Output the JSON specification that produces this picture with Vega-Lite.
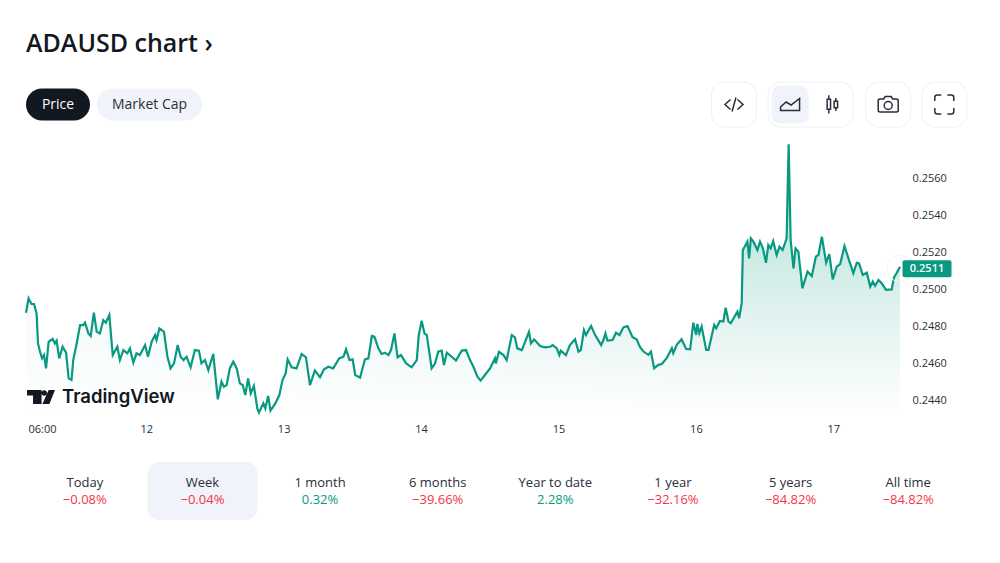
{"$schema":"https://vega.github.io/schema/vega-lite/v6.json","width":874,"height":271,"autosize":{"type":"none"},"padding":{"left":26,"top":144,"right":100,"bottom":148},"background":"#ffffff","config":{"view":{"stroke":null},"font":"Open Sans"},
"title":{"text":"ADAUSD chart ›","anchor":"start","frame":"group","fontSize":25,"fontWeight":600,"color":"#131722","offset":25},
"datasets":{"price":[{"t":0,"p":0.24872},{"t":0.9,"p":0.24949},{"t":1.9,"p":0.24919},{"t":2.8,"p":0.24919},{"t":3.7,"p":0.24868},{"t":4.2,"p":0.24706},{"t":4.9,"p":0.24661},{"t":5.6,"p":0.24625},{"t":6.3,"p":0.24643},{"t":7,"p":0.24571},{"t":7.9,"p":0.24715},{"t":9.3,"p":0.2473},{"t":10.1,"p":0.24706},{"t":10.7,"p":0.24721},{"t":11.6,"p":0.24625},{"t":12.8,"p":0.24688},{"t":14,"p":0.24656},{"t":14.9,"p":0.24517},{"t":15.9,"p":0.24508},{"t":16.5,"p":0.24616},{"t":17.7,"p":0.24706},{"t":18.9,"p":0.24805},{"t":20,"p":0.24805},{"t":20.6,"p":0.24818},{"t":21.8,"p":0.2476},{"t":22.6,"p":0.24746},{"t":23.7,"p":0.24872},{"t":24.7,"p":0.24769},{"t":25.8,"p":0.2476},{"t":27,"p":0.24832},{"t":27.9,"p":0.24818},{"t":29.1,"p":0.24859},{"t":30.3,"p":0.24643},{"t":31.9,"p":0.24688},{"t":32.8,"p":0.24616},{"t":34,"p":0.2467},{"t":35.4,"p":0.24652},{"t":36.3,"p":0.24679},{"t":37.5,"p":0.24602},{"t":38.6,"p":0.24652},{"t":39.8,"p":0.24643},{"t":41.6,"p":0.24697},{"t":42.6,"p":0.24634},{"t":43.9,"p":0.24715},{"t":45.1,"p":0.24751},{"t":45.6,"p":0.24724},{"t":46.6,"p":0.24787},{"t":48.2,"p":0.24769},{"t":49.4,"p":0.24634},{"t":50.5,"p":0.24571},{"t":51.7,"p":0.24598},{"t":53,"p":0.24697},{"t":54,"p":0.24634},{"t":55,"p":0.24616},{"t":56.1,"p":0.24634},{"t":57.5,"p":0.24577},{"t":59,"p":0.2467},{"t":60.4,"p":0.24667},{"t":61.3,"p":0.24598},{"t":62.5,"p":0.24616},{"t":63.7,"p":0.24562},{"t":65.4,"p":0.24649},{"t":67,"p":0.24404},{"t":68.3,"p":0.245},{"t":69.1,"p":0.24472},{"t":70.1,"p":0.24481},{"t":71.2,"p":0.24571},{"t":72.4,"p":0.24607},{"t":73.6,"p":0.24571},{"t":74.7,"p":0.2449},{"t":75.7,"p":0.24481},{"t":76.6,"p":0.24427},{"t":77.6,"p":0.24517},{"t":78.5,"p":0.24436},{"t":79.6,"p":0.24476},{"t":80.8,"p":0.24355},{"t":81.4,"p":0.24332},{"t":82.9,"p":0.24382},{"t":83.6,"p":0.24355},{"t":84.6,"p":0.24422},{"t":85.4,"p":0.24343},{"t":87,"p":0.24379},{"t":88.5,"p":0.24427},{"t":89.6,"p":0.24508},{"t":90.7,"p":0.24544},{"t":91.4,"p":0.2462},{"t":92.8,"p":0.24577},{"t":94.5,"p":0.24571},{"t":96.3,"p":0.24649},{"t":97.8,"p":0.24631},{"t":99.2,"p":0.24481},{"t":100.9,"p":0.24559},{"t":102.7,"p":0.24523},{"t":104.1,"p":0.24566},{"t":105.6,"p":0.2458},{"t":107.3,"p":0.24571},{"t":109.4,"p":0.24625},{"t":110.9,"p":0.24634},{"t":111.8,"p":0.24674},{"t":113,"p":0.24616},{"t":114.1,"p":0.2462},{"t":115,"p":0.24535},{"t":116.7,"p":0.24521},{"t":118.4,"p":0.2462},{"t":119.6,"p":0.24625},{"t":120.8,"p":0.24746},{"t":121.7,"p":0.24742},{"t":123.1,"p":0.24679},{"t":124.2,"p":0.24649},{"t":125.4,"p":0.24656},{"t":126.6,"p":0.24643},{"t":127.5,"p":0.2467},{"t":128.7,"p":0.2476},{"t":129.8,"p":0.24631},{"t":131,"p":0.24643},{"t":132.8,"p":0.24598},{"t":134.7,"p":0.24577},{"t":136.5,"p":0.24616},{"t":137.2,"p":0.24751},{"t":138.2,"p":0.24829},{"t":139.2,"p":0.2476},{"t":140,"p":0.24751},{"t":141.7,"p":0.24571},{"t":142.9,"p":0.24598},{"t":144,"p":0.24661},{"t":145.2,"p":0.24667},{"t":146,"p":0.24589},{"t":147,"p":0.24656},{"t":148.7,"p":0.24634},{"t":150.2,"p":0.24613},{"t":152.2,"p":0.24667},{"t":153.7,"p":0.2467},{"t":155.1,"p":0.24616},{"t":156.3,"p":0.2458},{"t":157.7,"p":0.24526},{"t":158.8,"p":0.24505},{"t":160.3,"p":0.24535},{"t":162.1,"p":0.24571},{"t":163.8,"p":0.24625},{"t":164.1,"p":0.24598},{"t":165.2,"p":0.24661},{"t":166.8,"p":0.24643},{"t":167.9,"p":0.24616},{"t":169.7,"p":0.24751},{"t":170.8,"p":0.24739},{"t":171.6,"p":0.24679},{"t":173.2,"p":0.2467},{"t":175.7,"p":0.24769},{"t":176.4,"p":0.24706},{"t":177.5,"p":0.24728},{"t":179.6,"p":0.24692},{"t":181.3,"p":0.24685},{"t":183.1,"p":0.24688},{"t":184,"p":0.24697},{"t":185.4,"p":0.24679},{"t":186.3,"p":0.24643},{"t":186.8,"p":0.24667},{"t":188.6,"p":0.24643},{"t":190,"p":0.24697},{"t":191.8,"p":0.24728},{"t":193,"p":0.24661},{"t":193.8,"p":0.2467},{"t":194.9,"p":0.24778},{"t":195.6,"p":0.24751},{"t":197.4,"p":0.248},{"t":198.8,"p":0.24751},{"t":199.9,"p":0.24724},{"t":200.9,"p":0.24697},{"t":201.7,"p":0.24724},{"t":202.4,"p":0.2476},{"t":203.1,"p":0.24721},{"t":204.9,"p":0.24724},{"t":206.1,"p":0.24764},{"t":207.3,"p":0.24751},{"t":208.7,"p":0.24793},{"t":210.1,"p":0.248},{"t":211.9,"p":0.24739},{"t":213.3,"p":0.24728},{"t":214.5,"p":0.24685},{"t":215.7,"p":0.24662},{"t":217.4,"p":0.24644},{"t":218.3,"p":0.24662},{"t":219.4,"p":0.24572},{"t":220.9,"p":0.2459},{"t":222.1,"p":0.24595},{"t":223.8,"p":0.24626},{"t":225.6,"p":0.2468},{"t":226.1,"p":0.24653},{"t":227.3,"p":0.24698},{"t":229,"p":0.24728},{"t":230.6,"p":0.24676},{"t":232,"p":0.24674},{"t":233.1,"p":0.24818},{"t":234.1,"p":0.24752},{"t":234.5,"p":0.24811},{"t":235.2,"p":0.24761},{"t":236,"p":0.24797},{"t":237.6,"p":0.24671},{"t":238.4,"p":0.24671},{"t":240.4,"p":0.24806},{"t":241.1,"p":0.24788},{"t":242.4,"p":0.24827},{"t":243.6,"p":0.24824},{"t":244.4,"p":0.24899},{"t":245.4,"p":0.24824},{"t":246.2,"p":0.24815},{"t":248.5,"p":0.24878},{"t":249.1,"p":0.24842},{"t":250,"p":0.24923},{"t":250.4,"p":0.25211},{"t":252,"p":0.25256},{"t":252.6,"p":0.25166},{"t":253.2,"p":0.25274},{"t":254.1,"p":0.25256},{"t":255.5,"p":0.25211},{"t":256.4,"p":0.25256},{"t":257.4,"p":0.2522},{"t":258.5,"p":0.25142},{"t":259.3,"p":0.25238},{"t":260.1,"p":0.2522},{"t":261,"p":0.25259},{"t":262.2,"p":0.25184},{"t":263.2,"p":0.25229},{"t":264.3,"p":0.25211},{"t":265.7,"p":0.25274},{"t":266.4,"p":0.25783},{"t":267.1,"p":0.25265},{"t":268.1,"p":0.25112},{"t":268.8,"p":0.2522},{"t":269.8,"p":0.25202},{"t":271.2,"p":0.25004},{"t":273,"p":0.25094},{"t":274.5,"p":0.2507},{"t":275.9,"p":0.25175},{"t":276.8,"p":0.25184},{"t":278,"p":0.25283},{"t":279.5,"p":0.25142},{"t":280.6,"p":0.25189},{"t":281.8,"p":0.25052},{"t":283.2,"p":0.25121},{"t":284.4,"p":0.25135},{"t":285.9,"p":0.25232},{"t":287.3,"p":0.25166},{"t":289,"p":0.25085},{"t":290.2,"p":0.25142},{"t":291,"p":0.25139},{"t":292.3,"p":0.25076},{"t":293.7,"p":0.25088},{"t":294.9,"p":0.25013},{"t":295.8,"p":0.2504},{"t":296.6,"p":0.25018},{"t":297.8,"p":0.25049},{"t":298.9,"p":0.25031},{"t":300.4,"p":0.24995},{"t":302.4,"p":0.24998},{"t":303.2,"p":0.25063},{"t":304.2,"p":0.25088},{"t":305.3,"p":0.25121}],
"last":[{"t":305.3,"p":0.2511,"label":"0.2511"}],
"extent":[{"t0":0,"t1":305.3,"p0":0.25784,"p1":0.24319}],
"tabs":[{"period":"Today","line":"name","text":"Today"},{"period":"Today","line":"change","text":"−0.08%","dir":"down"},{"period":"Week","line":"tile"},{"period":"Week","line":"name","text":"Week"},{"period":"Week","line":"change","text":"−0.04%","dir":"down"},{"period":"1 month","line":"name","text":"1 month"},{"period":"1 month","line":"change","text":"0.32%","dir":"up"},{"period":"6 months","line":"name","text":"6 months"},{"period":"6 months","line":"change","text":"−39.66%","dir":"down"},{"period":"Year to date","line":"name","text":"Year to date"},{"period":"Year to date","line":"change","text":"2.28%","dir":"up"},{"period":"1 year","line":"name","text":"1 year"},{"period":"1 year","line":"change","text":"−32.16%","dir":"down"},{"period":"5 years","line":"name","text":"5 years"},{"period":"5 years","line":"change","text":"−84.82%","dir":"down"},{"period":"All time","line":"name","text":"All time"},{"period":"All time","line":"change","text":"−84.82%","dir":"down"}],
"bar":[{"control":"Price","zone":"top"},{"control":"Market Cap","zone":"top"},{"control":"embed","zone":"top"},{"control":"area","zone":"top"},{"control":"candle","zone":"top"},{"control":"camera","zone":"top"},{"control":"fullscreen","zone":"top"}],
"brand":[{"brand":"TradingView"}]},
"layer":[
{"data":{"name":"price"},"mark":{"type":"area","fill":{"gradient":"linear","x1":0,"y1":0,"x2":0,"y2":1,"stops":[{"offset":0,"color":"rgba(8,153,129,0.34)"},{"offset":0.9,"color":"rgba(8,153,129,0.03)"},{"offset":1,"color":"rgba(8,153,129,0)"}]}},"encoding":{"x":{"field":"t","type":"quantitative","scale":{"domain":[0,305.3],"nice":false,"zero":false},"axis":null},"y":{"field":"p","type":"quantitative","scale":{"domain":[0.24319,0.25784],"nice":false,"zero":false},"axis":null},"y2":{"datum":0.24319}}},
{"data":{"name":"extent"},"mark":{"type":"rect","fill":{"gradient":"linear","x1":0,"y1":0,"x2":1,"y2":0,"stops":[{"offset":0,"color":"rgba(255,255,255,0.7)"},{"offset":0.85,"color":"rgba(255,255,255,0)"},{"offset":1,"color":"rgba(255,255,255,0)"}]}},"encoding":{"x":{"field":"t0","type":"quantitative","scale":{"domain":[0,305.3],"nice":false,"zero":false},"axis":null},"x2":{"field":"t1"},"y":{"field":"p0","type":"quantitative","scale":{"domain":[0.24319,0.25784],"nice":false,"zero":false},"axis":null},"y2":{"field":"p1"}}},
{"data":{"name":"price"},"mark":{"type":"line","color":"#089981","strokeWidth":2.2,"interpolate":"linear"},"encoding":{"x":{"field":"t","type":"quantitative","title":null,"scale":{"domain":[0,305.3],"nice":false,"zero":false},"axis":{"title":null,"values":[5.6,42,90,138,186,234,282],"labelExpr":"datum.value<10?'06:00':toString(12+round((datum.value-42)/48))","grid":false,"domain":false,"ticks":false,"labelPadding":8,"labelFontSize":11,"labelColor":"#2a2e39","labelFont":"Open Sans","labelFlush":false}},"y":{"field":"p","type":"quantitative","title":null,"scale":{"domain":[0.24319,0.25784],"nice":false,"zero":false},"axis":{"title":null,"orient":"right","values":[0.244,0.246,0.248,0.25,0.252,0.254,0.256],"format":".4f","grid":false,"domain":false,"ticks":false,"labelPadding":12,"labelFontSize":11,"labelColor":"#2a2e39","labelFont":"Open Sans"}}}},
{"data":{"name":"last"},"encoding":{"x":{"field":"t","type":"quantitative","scale":{"domain":[0,305.3],"nice":false,"zero":false},"axis":null},"y":{"field":"p","type":"quantitative","scale":{"domain":[0.24319,0.25784],"nice":false,"zero":false},"axis":null}},"layer":[
{"mark":{"type":"point","filled":false,"size":700,"stroke":"#eef6f4","strokeWidth":1,"opacity":1}},
{"mark":{"type":"rect","width":49,"height":17,"xOffset":27,"fill":"#089981","cornerRadius":2}},
{"mark":{"type":"text","xOffset":27,"fontSize":11,"fontWeight":600,"color":"#ffffff","baseline":"middle"},"encoding":{"text":{"field":"label"}}}
]},
{"data":{"name":"brand"},"encoding":{"x":{"field":"brand","type":"nominal","scale":{"type":"point","domain":["TradingView"],"range":[36,36]},"axis":null},"y":{"field":"brand","type":"nominal","scale":{"type":"point","domain":["TradingView"],"range":[253,253]},"axis":null}},"layer":[
{"mark":{"type":"text","align":"left","baseline":"middle","font":"Inter","fontSize":18.5,"fontWeight":600,"color":"#131722"},"encoding":{"text":{"field":"brand"}}},
{"mark":{"type":"point","shape":"M-1 -.5H.04V.5H-.57V-.1H-1ZM.03 -.29a.2 .2 0 1 0 .4 0a.2 .2 0 1 0 -.4 0ZM.55 -.5H1L.6 .5H.1Z","filled":true,"fill":"#131722","stroke":null,"size":784,"opacity":1,"xOffset":-21}}
]},
{"data":{"name":"tabs"},"encoding":{"x":{"field":"period","type":"nominal","sort":null,"scale":{"type":"band","domain":["Today","Week","1 month","6 months","Year to date","1 year","5 years","All time"],"range":[0,941],"paddingInner":0,"paddingOuter":0},"axis":null},"y":{"field":"line","type":"nominal","scale":{"type":"point","padding":0,"domain":["name","tile","change"],"range":[338.5,355.5]},"axis":null}},
"layer":[
{"transform":[{"filter":"datum.line==='tile'"}],"mark":{"type":"rect","width":110,"height":58,"fill":"#f0f3fa","cornerRadius":12}},
{"transform":[{"filter":"datum.line==='name'"}],"mark":{"type":"text","fontSize":13,"color":"#2a2e39","baseline":"middle"},"encoding":{"text":{"field":"text"}}},
{"transform":[{"filter":"datum.dir==='down'"}],"mark":{"type":"text","fontSize":13,"color":"#f23645","baseline":"middle"},"encoding":{"text":{"field":"text"}}},
{"transform":[{"filter":"datum.dir==='up'"}],"mark":{"type":"text","fontSize":13,"color":"#089981","baseline":"middle"},"encoding":{"text":{"field":"text"}}}
]},
{"data":{"name":"bar"},"transform":[{"filter":"datum.control==='Price'||datum.control==='Market Cap'"}],"encoding":{"x":{"field":"control","type":"nominal","scale":{"type":"point","padding":0,"domain":["Price","Market Cap"],"range":[32,123.5]},"axis":null},"y":{"field":"zone","type":"nominal","scale":{"type":"point","domain":["top"],"range":[-39.5,-39.5]},"axis":null}},
"layer":[
{"transform":[{"filter":"datum.control==='Price'"}],"mark":{"type":"rect","width":64,"height":32,"cornerRadius":16,"fill":"#131722"}},
{"transform":[{"filter":"datum.control==='Market Cap'"}],"mark":{"type":"rect","width":105,"height":32,"cornerRadius":16,"fill":"#f0f3fa"}},
{"transform":[{"filter":"datum.control==='Price'"}],"mark":{"type":"text","fontSize":14,"color":"#ffffff","baseline":"middle"},"encoding":{"text":{"field":"control"}}},
{"transform":[{"filter":"datum.control==='Market Cap'"}],"mark":{"type":"text","fontSize":14,"color":"#2a2e39","baseline":"middle"},"encoding":{"text":{"field":"control"}}}
]},
{"data":{"name":"bar"},"encoding":{"x":{"field":"control","type":"nominal","scale":{"type":"point","padding":0,"domain":["embed","area","candle","camera","fullscreen"],"range":[708,918.3]},"axis":null},"y":{"field":"zone","type":"nominal","scale":{"type":"point","domain":["top"],"range":[-39.5,-39.5]},"axis":null}},
"layer":[
{"transform":[{"filter":"datum.control==='embed'||datum.control==='fullscreen'"}],"mark":{"type":"rect","width":45,"height":45,"cornerRadius":13,"fill":"#ffffff","stroke":"#eef0f4","strokeWidth":1}},
{"transform":[{"filter":"datum.control==='camera'"}],"mark":{"type":"rect","width":45,"height":45,"xOffset":-3.5,"cornerRadius":13,"fill":"#ffffff","stroke":"#eef0f4","strokeWidth":1}},
{"transform":[{"filter":"datum.control==='area'"}],"mark":{"type":"rect","width":85,"height":45,"xOffset":24,"cornerRadius":13,"fill":"#ffffff","stroke":"#eef0f4","strokeWidth":1}},
{"transform":[{"filter":"datum.control==='area'"}],"mark":{"type":"rect","width":37,"height":38,"xOffset":3.5,"cornerRadius":9,"fill":"#f0f3fa"}},
{"transform":[{"filter":"datum.control==='embed'"}],"mark":{"type":"point","shape":"M-.35 -.5L-.9 0L-.35 .5M.35 -.5L.9 0L.35 .5M.2 -.7L-.2 .7","filled":false,"stroke":"#2a2e39","strokeWidth":1.5,"size":400,"opacity":1}},
{"transform":[{"filter":"datum.control==='area'"}],"mark":{"type":"point","shape":"M-.95 .6V.25L-.4 -.25L.1 .05L.95 -.6V.6Z","filled":false,"stroke":"#2a2e39","strokeWidth":1.5,"size":400,"opacity":1,"xOffset":3.5}},
{"transform":[{"filter":"datum.control==='candle'"}],"mark":{"type":"point","shape":"M-.5 -.53H-.16V.47H-.5ZM-.33 -.93V-.53M-.33 .47V.9M.2 -.33H.54V.33H.2ZM.37 -.66V-.33M.37 .33V.66","filled":false,"stroke":"#2a2e39","strokeWidth":1.5,"size":400,"opacity":1,"xOffset":-7}},
{"transform":[{"filter":"datum.control==='camera'"}],"mark":{"type":"point","shape":"M-1 -.4Q-1 -.55 -.8 -.55H-.45L-.3 -.8H.3L.45 -.55H.8Q1 -.55 1 -.4V.6Q1 .75 .8 .75H-.8Q-1 .75 -1 .6ZM.4 .1a.4 .4 0 1 0 -.8 0a.4 .4 0 1 0 .8 0Z","filled":false,"stroke":"#2a2e39","strokeWidth":1.5,"size":400,"opacity":1,"xOffset":-3.5}},
{"transform":[{"filter":"datum.control==='fullscreen'"}],"mark":{"type":"point","shape":"M-.95 -.35V-.7Q-.95 -.95 -.7 -.95H-.3M.3 -.95H.7Q.95 -.95 .95 -.7V-.35M.95 .35V.7Q.95 .95 .7 .95H.3M-.3 .95H-.7Q-.95 .95 -.95 .7V.35","filled":false,"stroke":"#2a2e39","strokeWidth":1.5,"size":400,"opacity":1}}
]}
],
"resolve":{"scale":{"x":"independent","y":"independent"},"axis":{"x":"independent","y":"independent"}}}
